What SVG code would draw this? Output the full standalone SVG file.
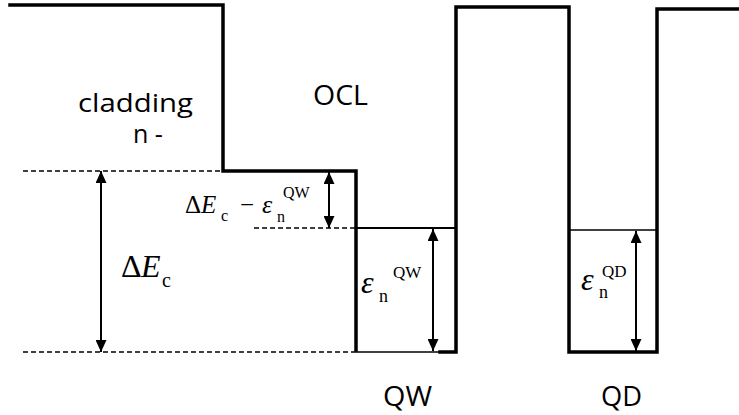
<svg xmlns="http://www.w3.org/2000/svg" width="739" height="415" viewBox="0 0 739 415">
  <defs>
    <marker id="ah" markerUnits="userSpaceOnUse" markerWidth="12" markerHeight="11" refX="12" refY="5.5" orient="auto-start-reverse">
      <path d="M0,0 L12,5.5 L0,11 z" fill="#000"/>
    </marker>
    <style>
      .band{fill:none;stroke:#000;stroke-width:3.5;stroke-linejoin:miter;stroke-linecap:square}
      .thin{fill:none;stroke:#000;stroke-width:1.6}
      .level{fill:none;stroke:#000;stroke-width:2}
      .dash{fill:none;stroke:#000;stroke-width:1.6;stroke-dasharray:5 3}
      .arr{fill:none;stroke:#000;stroke-width:2;marker-start:url(#ah);marker-end:url(#ah)}
      .lbl{font-family:"Open Sans","Liberation Sans",sans-serif;fill:#000}
      .m{font-family:"Liberation Serif","Times New Roman",serif;fill:#000}
      .it{font-style:italic}
    </style>
  </defs>

  <g id="band-profile">
    <path class="band" d="M10,5 H223 V171 H356 V350"/>
    <line class="thin" x1="355" y1="352" x2="442" y2="352"/>
    <path class="band" d="M440,352 H456 V7 H569 V352 H657 V9 H739"/>
    <line class="level" x1="356" y1="228" x2="456" y2="228"/>
    <line class="thin" x1="569" y1="230" x2="657" y2="230"/>
  </g>

  <g id="connectors">
    <line class="dash" x1="23" y1="171" x2="222" y2="171"/>
    <line class="dash" x1="23" y1="352" x2="355" y2="352"/>
    <line class="dash" x1="254" y1="228" x2="355" y2="228"/>
    <line class="arr" x1="101" y1="171" x2="101" y2="352"/>
    <line class="arr" x1="329" y1="172" x2="329" y2="228"/>
    <line class="arr" x1="433" y1="229" x2="433" y2="351"/>
    <line class="arr" x1="636" y1="231" x2="636" y2="351"/>
  </g>

  <g id="cladding">
    <text class="lbl" x="78" y="112" font-size="26" textLength="115" lengthAdjust="spacingAndGlyphs">cladding</text>
    <text class="lbl" x="133" y="143" font-size="25">n -</text>
  </g>
  <g id="ocl">
    <text class="lbl" x="313" y="105" font-size="28" textLength="55" lengthAdjust="spacingAndGlyphs">OCL</text>
  </g>
  <g id="qw-label">
    <text class="lbl" x="383" y="406" font-size="27" textLength="49" lengthAdjust="spacingAndGlyphs">QW</text>
  </g>
  <g id="qd-label">
    <text class="lbl" x="601" y="406" font-size="27" textLength="41" lengthAdjust="spacingAndGlyphs">QD</text>
  </g>

  <g id="delta-ec">
    <text class="m" x="121" y="277" font-size="32">Δ</text>
    <text class="m it" x="141" y="277" font-size="32">E</text>
    <text class="m" x="162" y="287" font-size="20">c</text>
  </g>
  <g id="delta-ec-minus-eps">
    <text class="m" x="185" y="213" font-size="25">Δ</text>
    <text class="m it" x="201" y="213" font-size="25">E</text>
    <text class="m" x="221" y="221" font-size="16">c</text>
    <text class="m" x="240" y="213" font-size="25">−</text>
    <text class="m it" x="262" y="213" font-size="26">ε</text>
    <text class="m" x="277" y="222" font-size="16">n</text>
    <text class="m" x="283" y="198" font-size="16">QW</text>
  </g>
  <g id="eps-qw">
    <text class="m it" x="361" y="293" font-size="32">ε</text>
    <text class="m" x="379" y="302" font-size="18">n</text>
    <text class="m" x="393" y="278" font-size="17">QW</text>
  </g>
  <g id="eps-qd">
    <text class="m it" x="581" y="290" font-size="32">ε</text>
    <text class="m" x="599" y="298" font-size="18">n</text>
    <text class="m" x="602" y="277" font-size="17">QD</text>
  </g>
</svg>
